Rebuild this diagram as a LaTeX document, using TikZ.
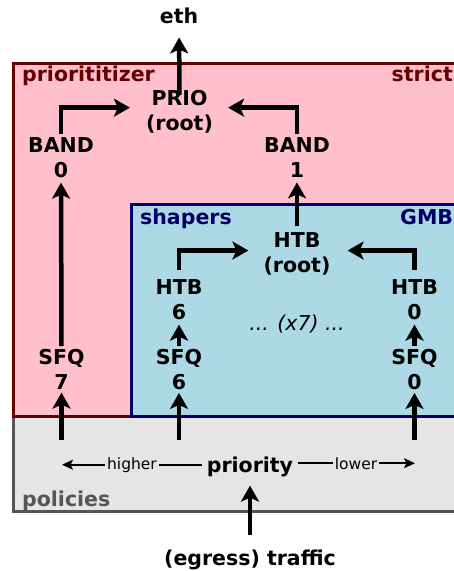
\documentclass[tikz,border=0pt]{standalone}
\usepackage{fontspec}
\setmainfont{DejaVu Sans}
\usetikzlibrary{arrows.meta,calc}
\definecolor{pinkc}{HTML}{FFC0CB}
\definecolor{darkredc}{HTML}{660000}
\definecolor{bluec}{HTML}{ADD8E6}
\definecolor{navyc}{HTML}{000066}
\definecolor{grayfill}{HTML}{E5E5E5}
\definecolor{grayline}{HTML}{555555}
\tikzset{
  qlbl/.style={font=\bfseries\fontsize{20.5}{25}\selectfont, align=center, inner xsep=2pt, inner ysep=3pt, anchor=north},
  boxlbl/.style={font=\bfseries\fontsize{20.5}{25}\selectfont, inner sep=0pt},
  arr/.style={line width=4.5pt, -{Stealth[length=16pt,width=18pt,inset=4pt]}},
  thinarr/.style={line width=1.7pt, -{Stealth[length=11pt,width=10pt,inset=2.5pt]}},
  thinline/.style={line width=1.7pt},
  small/.style={font=\fontsize{15.5}{18}\selectfont, inner xsep=2pt, inner ysep=0pt, anchor=base},
}
\begin{document}
\begin{tikzpicture}[x=1pt,y=-1pt]
\useasboundingbox (0,0) rectangle (454,571);
\clip (0,0) rectangle (454,571);
% boxes
\draw[fill=grayfill, draw=grayline, line width=3pt] (13.5,416) rectangle (470,511);
\draw[fill=pinkc, draw=darkredc, line width=3pt] (13.5,63) rectangle (470,416.5);
\draw[fill=bluec, draw=navyc, line width=3pt] (131.5,204.5) rectangle (470,416.5);
% box labels
\node[boxlbl, text=darkredc, anchor=base west] (lprio) at (22,81) {priorititizer};
\node[boxlbl, text=darkredc, anchor=base east] (lstrict) at (453,81) {strict};
\node[boxlbl, text=navyc, anchor=base west] (lshap) at (140,224) {shapers};
\node[boxlbl, text=navyc, anchor=base west] (lgmb) at (400,224) {GMB};
\node[boxlbl, text=grayline, anchor=base west] (lpol) at (22,506) {policies};
% nodes
\node[boxlbl, anchor=base] (eth) at (179,23) {eth};
\node[qlbl] (prio) at (179.5,87) {PRIO\\(root)};
\node[qlbl] (b0) at (61,134) {BAND\\0};
\node[qlbl] (b1) at (297,134) {BAND\\1};
\node[qlbl] (htbr) at (297,229) {HTB\\(root)};
\node[qlbl] (htb6) at (179,276) {HTB\\6};
\node[qlbl] (htb0) at (414.5,276) {HTB\\0};
\node[qlbl] (sfq7) at (61.5,346) {SFQ\\7};
\node[qlbl] (sfq6) at (179,346) {SFQ\\6};
\node[qlbl] (sfq0) at (414.5,346) {SFQ\\0};
\node[font=\itshape\fontsize{20.5}{25}\selectfont, anchor=base, inner sep=0pt] (dots) at (297,330) {... (x7) ...};
\node[boxlbl, anchor=base, inner xsep=5pt] (prty) at (250,472) {priority};
\node[small] (higher) at (132,469) {higher};
\node[small] (lower) at (356,469) {lower};
\node[boxlbl, anchor=base, inner ysep=3pt] (traffic) at (250,565) {(egress) traffic};
% coordinates
\coordinate (in7) at (61.5,440);
\coordinate (in6) at (179,440);
\coordinate (in0) at (414.5,440);
\coordinate (hl) at (62,464);
\coordinate (hr) at (415,464);
% connectors
\draw[arr, shorten >=14pt] ([yshift=-8pt]prio.north) -- (eth.south);
\draw[arr] (b0.north) |- ([xshift=-14pt,yshift=4pt]prio.west);
\draw[arr] (b1.north) |- ([xshift=13pt,yshift=4pt]prio.east);
\draw[arr, shorten >=2pt] (sfq7.north) -- (b0.south);
\draw[arr, shorten >=2pt, shorten <=3pt] (htbr.north) -- (b1.south);
\draw[arr] ([yshift=6pt]htb6.north) |- ([xshift=-13pt,yshift=3pt]htbr.west);
\draw[arr] ([yshift=6pt]htb0.north) |- ([xshift=15pt,yshift=3pt]htbr.east);
\draw[arr, shorten >=2pt] (sfq6.north) -- (htb6.south);
\draw[arr, shorten >=2pt] (sfq0.north) -- (htb0.south);
\draw[arr] (in7) -- (sfq7.south);
\draw[arr] (in6) -- (sfq6.south);
\draw[arr] (in0) -- (sfq0.south);
\draw[thinarr] (higher.west) -- (higher.west -| hl);
\draw[thinline] (higher.east) -- (higher.east -| prty.west);
\draw[thinline] (lower.west -| prty.east) -- (lower.west);
\draw[thinarr] (lower.east) -- (lower.east -| hr);
\draw[arr, shorten <=11pt, shorten >=9pt] (traffic.north) -- (prty.south);
\end{tikzpicture}
\end{document}
